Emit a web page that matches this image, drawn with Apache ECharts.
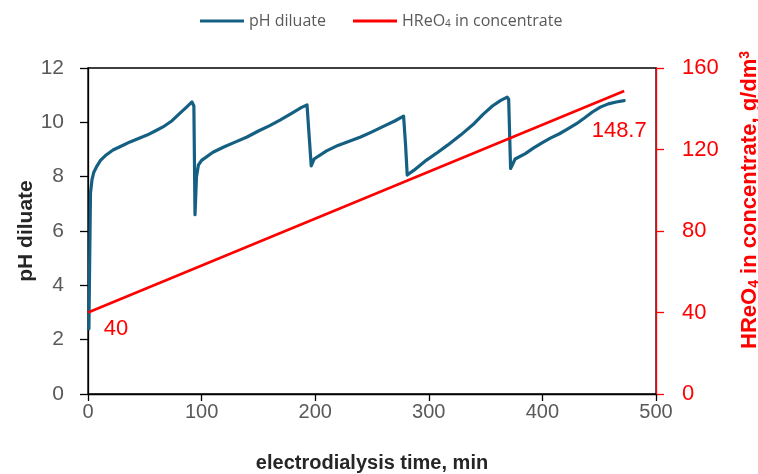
<!DOCTYPE html>
<html><head><meta charset="utf-8">
<script src="https://cdn.jsdelivr.net/npm/echarts@6/dist/echarts.min.js"></script>
<style>html,body{margin:0;padding:0;background:#fff}#c{width:758px;height:474px}</style>
</head><body><div id="c"></div>
<script>
// pH of the diluate vs electrodialysis time (min)
const phTime = [0.8, 1.5, 2.2, 3.5, 5, 8, 11, 16, 22, 30, 37, 45, 52, 60, 66, 74, 81, 87, 91.5, 92.5, 93.2, 94.2, 95.5, 97.2, 100, 110, 120, 130, 140, 150, 160, 169, 180, 188, 192.8, 194.5, 196.5, 199, 210, 220, 230, 240, 250, 260, 270, 277.8, 279.5, 281, 287, 298, 308, 316.5, 328, 340, 348, 356, 363, 369, 370.3, 372, 373.5, 376, 385, 392, 400, 407, 415, 422, 430, 437, 444, 451, 458, 465, 472];
const phValue = [2.4, 5.0, 7.4, 7.88, 8.15, 8.4, 8.6, 8.8, 8.98, 9.14, 9.28, 9.41, 9.53, 9.7, 9.83, 10.06, 10.34, 10.57, 10.75, 10.82, 10.6, 6.6, 8.0, 8.43, 8.6, 8.9, 9.1, 9.28, 9.46, 9.68, 9.88, 10.08, 10.35, 10.55, 10.64, 9.6, 8.4, 8.65, 8.95, 9.15, 9.3, 9.46, 9.65, 9.85, 10.05, 10.23, 9.2, 8.06, 8.24, 8.61, 8.9, 9.16, 9.53, 9.96, 10.3, 10.6, 10.8, 10.93, 10.85, 8.3, 8.37, 8.65, 8.85, 9.05, 9.25, 9.42, 9.58, 9.75, 9.95, 10.16, 10.38, 10.56, 10.68, 10.75, 10.8];
// HReO4 concentration in the concentrate (g/dm3)
const hreo4Time = [0, 472];
const hreo4Value = [40, 148.7];
// axes
const xRange = [0, 500, 100];
const phRange = [0, 12, 2];
const concRange = [0, 160, 40];

const blue = '#156082', red = '#ff0000', grey = '#595959';
const FF = 'Liberation Sans';

const phData = phTime.map((t, i) => [t, phValue[i]]);
const concData = hreo4Time.map((t, i) => ({
  value: [t, hreo4Value[i]],
  label: {show: true, position: 'bottom', formatter: '{@[1]}', color: red,
    fontFamily: FF, fontSize: 22, offset: i === 0 ? [28, 0] : [-5, 24]}
}));

const chart = echarts.init(document.getElementById('c'), null, {renderer: 'canvas'});
chart.setOption({
  animation: false,
  backgroundColor: '#fff',
  grid: {left: 88, right: 102, top: 68, bottom: 80, outerBoundsMode: 'none', containLabel: false,
    show: true, borderColor: '#000', borderWidth: 1.3, backgroundColor: 'transparent'},
  legend: {
    top: 8, left: 195, itemGap: 27, itemWidth: 44, itemHeight: 3, icon: 'rect',
    textStyle: {fontFamily: 'Open Sans', fontSize: 16, color: grey,
      rich: {sub: {fontFamily: 'Open Sans', fontSize: 10, color: grey, verticalAlign: 'bottom', padding: [7, 0, 0, 0]}}},
    formatter: n => n === 'HReO4 in concentrate' ? 'HReO{sub|4} in concentrate' : n,
    data: [{name: 'pH diluate', itemStyle: {color: blue, opacity: 1}},
           {name: 'HReO4 in concentrate', itemStyle: {color: red, opacity: 1}}]
  },
  xAxis: {
    type: 'value', min: xRange[0], max: xRange[1], interval: xRange[2],
    name: 'electrodialysis time, min', nameLocation: 'middle', nameGap: 59, nameMoveOverlap: false,
    nameTextStyle: {color: '#262626', fontFamily: FF, fontWeight: 'bold', fontSize: 20},
    axisLine: {lineStyle: {color: '#000', width: 1.3}},
    axisTick: {inside: false, length: 7, lineStyle: {color: '#000', width: 1.3}},
    axisLabel: {color: grey, margin: 8, fontFamily: FF, fontSize: 20},
    splitLine: {show: false}
  },
  yAxis: [{
    type: 'value', min: phRange[0], max: phRange[1], interval: phRange[2],
    name: 'pH diluate', nameLocation: 'middle', nameGap: 51, nameRotate: 90, nameMoveOverlap: false,
    nameTextStyle: {color: '#262626', fontFamily: FF, fontWeight: 'bold', fontSize: 21},
    axisLine: {show: true, lineStyle: {color: '#000', width: 1.3}},
    axisTick: {show: true, length: 8, lineStyle: {color: '#000', width: 1.3}},
    axisLabel: {color: grey, margin: 24, fontFamily: FF, fontSize: 21},
    splitLine: {show: false}
  }, {
    type: 'value', position: 'right', min: concRange[0], max: concRange[1], interval: concRange[2],
    name: 'HReO{sub|4} in concentrate, g/dm{sup|3}', nameLocation: 'middle', nameGap: 82, nameRotate: 90, nameMoveOverlap: false,
    nameTextStyle: {color: red, fontFamily: FF, fontWeight: 'bold', fontSize: 22, padding: [0, 0, 0, 62],
      rich: {
        sub: {color: red, fontFamily: FF, fontWeight: 'bold', fontSize: 14, verticalAlign: 'bottom', padding: [9, 0, 0, 0]},
        sup: {color: red, fontFamily: FF, fontWeight: 'bold', fontSize: 14, verticalAlign: 'top', padding: [0, 0, 9, 0]}
      }},
    axisLine: {show: true, lineStyle: {color: red, width: 1.3}},
    axisTick: {show: true, length: 8, lineStyle: {color: red, width: 1.3}},
    axisLabel: {color: red, margin: 26, fontFamily: FF, fontSize: 22},
    splitLine: {show: false}
  }],
  series: [{
    name: 'pH diluate', type: 'line', yAxisIndex: 0, data: phData,
    showSymbol: false, symbol: 'none', smooth: false,
    lineStyle: {color: blue, width: 3.2, join: 'round', cap: 'round'}, itemStyle: {color: blue}, z: 3
  }, {
    name: 'HReO4 in concentrate', type: 'line', yAxisIndex: 1, data: concData,
    symbol: 'circle', symbolSize: 0.1, showSymbol: true,
    lineStyle: {color: red, width: 2.6}, itemStyle: {color: 'rgba(255,0,0,0)'}, z: 4
  }]
});
</script></body></html>
